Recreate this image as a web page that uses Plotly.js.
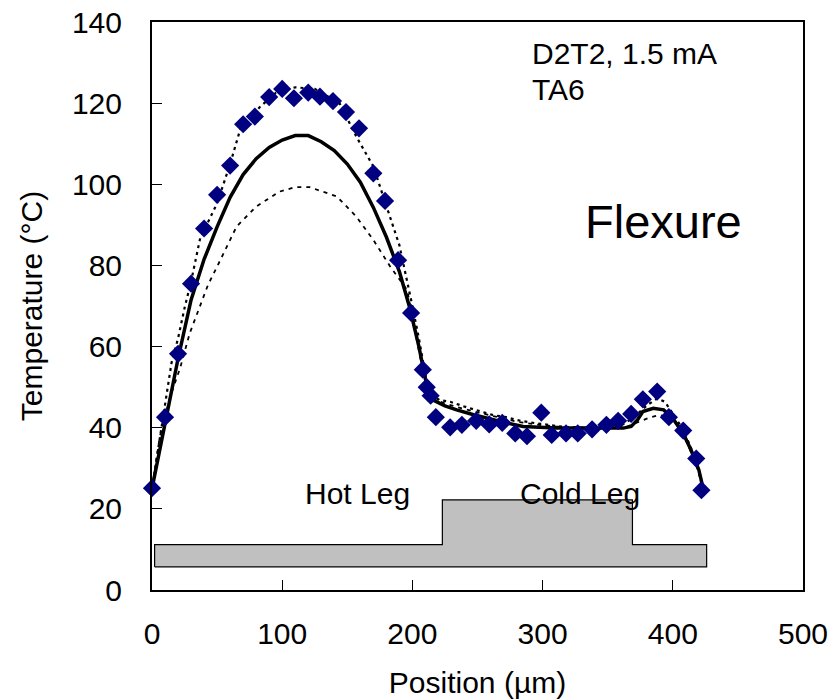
<!DOCTYPE html>
<html>
<head>
<meta charset="utf-8">
<script src="https://cdn.plot.ly/plotly-3.0.1.min.js"></script>
<style>html,body{margin:0;padding:0;background:#fff;}#chart{width:839px;height:699px;}</style>
</head>
<body>
<div id="chart"></div>
<script>
// Measured temperatures (diamonds)
const measX = [0,10,20,30,40,50,60,70,79,90,100,109,120,129,139,149,159,170,179,189,199,208,211,214,218,229,238,249,259,269,279,288,299,307,318,327,338,349,358,368,377,388,397,408,418,422];
const measY = [25.1,42.6,58.2,75.5,89.1,97.4,104.6,114.8,116.7,121.5,123.5,121.2,122.6,121.6,120.5,117.8,113.8,102.7,95.9,81.3,68.3,54.3,50,47.9,42.6,40.1,40.7,41.7,40.8,41.2,38.6,37.9,43.7,38.2,38.6,38.6,39.6,40.7,41.7,43.4,47,48.9,42.6,39.3,32.4,24.6];

// Model (solid)
const modelX = [0,10,20,30,40,50,60,70,80,90,100,110,120,130,140,150,160,170,180,190,198,205,210,213,216,225,234,247,260,272,285,298,310,336,362,368,373,377,385,393,400,408,414,420,423];
const modelY = [25,41.5,57,71.5,81.5,89.5,96.8,102.4,106.3,109.1,110.9,112,112,110.5,108.3,105,100.5,94.3,87,78.5,69.5,60,52,48.5,46.8,45.4,44.4,43.2,42.1,41.2,40.3,40,39.9,39.9,39.9,40.3,42,44,44.8,44.4,42.3,38.6,34.5,29.6,25.5];

// Upper bound (dotted)
const upX = [0,5,10,15,20,25,30,37,50,60,68,83,95,110,125,144,157,170,181,190,199,205,210,215,221,229,242,252,262,272,283,295,306,316,330,345,360,370,380,388,394,400,408,414,420,423];
const upY = [25,35,46,56,62,69.5,76,86.7,95.3,105,113.8,119.1,122.5,123.9,123.5,120,111.7,104.4,93.7,85,71.5,62,53,48,46.8,46.4,45,44,43.1,42.6,41.7,41.1,40.7,40.2,40,40,40.5,42.5,45.5,47.2,46.4,43.5,39.5,35,29,25];

// Lower bound (dashed)
const lowX = [0,6,14,21.5,29,36,43,50,65,80,98,110,121,142,157,170,183,196,203,208,213,218,225,235,250,265,280,295,310,330,350,365,375,383,390,396,402,408,414,420,423];
const lowY = [25,37.8,47.7,54.6,63.3,69,75.2,79.7,89.6,94.5,98.2,99.3,99.3,97,92,86.3,79.7,73.9,62,54,48.5,46.8,46,45,43.8,42.6,41.5,40.8,40.3,40,40,40.3,41.5,42.6,43.1,42.6,41.2,38.5,34,29,25];

// Device outline (hot leg / cold leg)
const structX = [2,426,426,369,369,223,223,2,2];
const structY = [5.7,5.7,11.2,11.2,22.2,22.2,11.2,11.2,5.7];

const xTicks = [0,100,200,300,400,500];
const yTicks = [0,20,40,60,80,100,120,140];

const FONT = "Liberation Sans, Arial, sans-serif";

const traces = [
  {x: structX, y: structY, type: 'scatter', mode: 'lines', fill: 'toself',
   fillcolor: '#c0c0c0', line: {color: '#000', width: 1.2}, hoverinfo: 'skip'},
  {x: lowX, y: lowY, type: 'scatter', mode: 'lines',
   line: {color: '#000', width: 1.8, dash: '4px,5px'}},
  {x: upX, y: upY, type: 'scatter', mode: 'lines',
   line: {color: '#000', width: 2.2, dash: '3px,4px'}},
  {x: modelX, y: modelY, type: 'scatter', mode: 'lines',
   line: {color: '#000', width: 3.5}},
  {x: measX, y: measY, type: 'scatter', mode: 'markers', cliponaxis: false,
   marker: {symbol: 'diamond', size: 14, color: '#000080'}}
];

const layout = {
  width: 839, height: 699,
  margin: {l: 152, r: 36, t: 22, b: 109},
  paper_bgcolor: '#fff', plot_bgcolor: '#fff',
  showlegend: false,
  font: {family: FONT, color: '#000', size: 30},
  xaxis: {
    range: [0, 500], tickvals: xTicks, ticktext: xTicks.map(String),
    showgrid: false, zeroline: false, showline: true, mirror: true,
    linecolor: '#000', linewidth: 2, ticks: 'inside', ticklen: 10, tickwidth: 1, tickcolor: '#000',
    tickfont: {family: FONT, size: 30}, ticklabelstandoff: 16,
    title: {text: 'Position (µm)', font: {family: FONT, size: 30}, standoff: 26}
  },
  yaxis: {
    range: [0, 140], tickvals: yTicks, ticktext: yTicks.map(String),
    showgrid: false, zeroline: false, showline: true, mirror: true,
    linecolor: '#000', linewidth: 2, ticks: 'inside', ticklen: 10, tickwidth: 1, tickcolor: '#000',
    tickfont: {family: FONT, size: 30}, ticklabelstandoff: 22,
    title: {text: 'Temperature (°C)', font: {family: FONT, size: 30}, standoff: 20}
  },
  annotations: [
    {xref: 'paper', yref: 'paper', x: 0.581, y: 0.945, xanchor: 'left', yanchor: 'middle',
     text: 'D2T2, 1.5 mA', showarrow: false, font: {family: FONT, size: 30}},
    {xref: 'paper', yref: 'paper', x: 0.581, y: 0.882, xanchor: 'left', yanchor: 'middle',
     text: 'TA6', showarrow: false, font: {family: FONT, size: 30}},
    {xref: 'paper', yref: 'paper', x: 0.785, y: 0.648, xanchor: 'center', yanchor: 'middle',
     text: 'Flexure', showarrow: false, font: {family: FONT, size: 47}},
    {xref: 'x', yref: 'y', x: 157.5, y: 23.9, xanchor: 'center', yanchor: 'middle',
     text: 'Hot Leg', showarrow: false, font: {family: FONT, size: 30}},
    {xref: 'x', yref: 'y', x: 328.7, y: 23.9, xanchor: 'center', yanchor: 'middle',
     text: 'Cold Leg', showarrow: false, font: {family: FONT, size: 30}}
  ]
};

Plotly.newPlot('chart', traces, layout, {displayModeBar: false, staticPlot: true});
</script>
</body>
</html>
